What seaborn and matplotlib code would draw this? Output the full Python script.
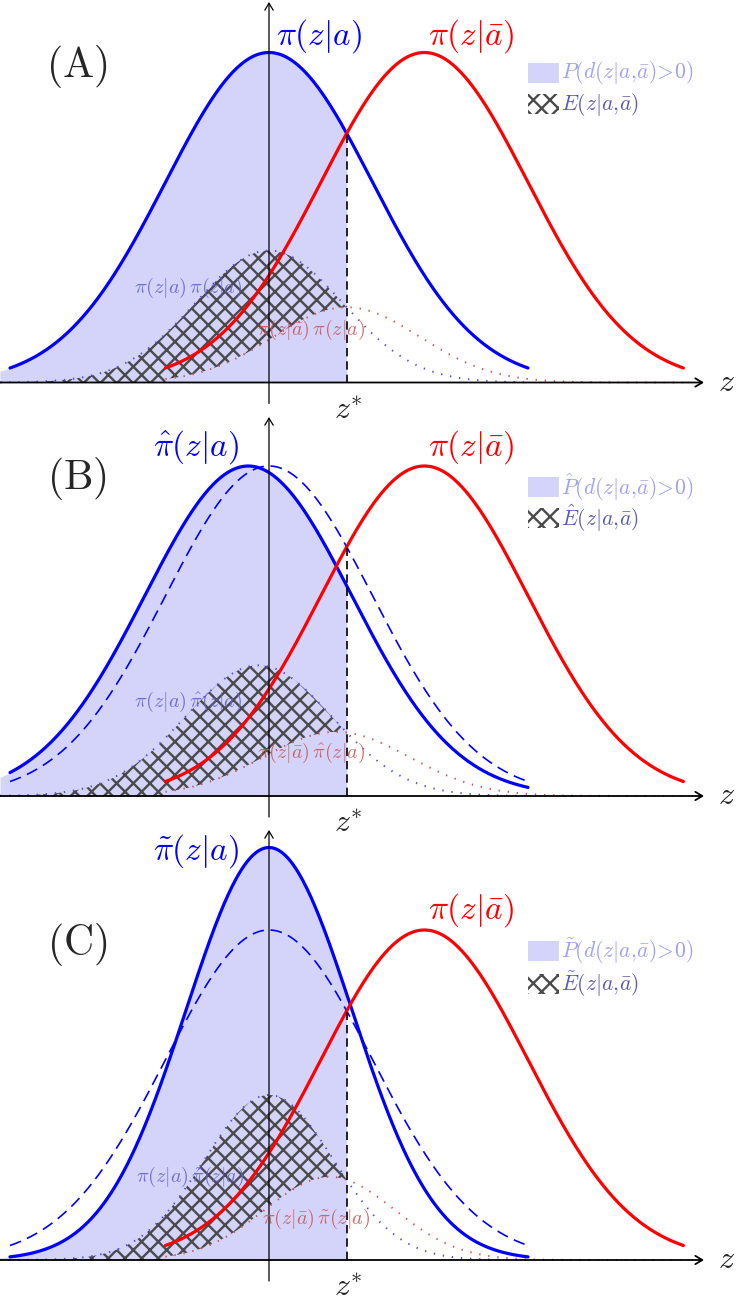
import numpy as np
import pandas as pd
import matplotlib
matplotlib.use("Agg")
import matplotlib.pyplot as plt
from matplotlib.patches import Rectangle, FancyArrowPatch
import seaborn as sns

# ---------------- data ----------------
panel_names = ["(A)", "(B)", "(C)"]
# modified blue density per panel: mean, sigma, peak height (relative to original)
blue_means = [0.0, -0.2, 0.0]
blue_sigmas = [1.0, 1.0, 0.8]
blue_peaks = [1.0, 1.0, 1.25]
# original densities
mu_a = 0.0
mu_abar = 1.5
sigma0 = 1.0
z_star = 0.75
product_scale = 0.4
blue_domain = [-2.5, 2.5]
red_domain = [-1.0, 4.0]
blue_labels = [r"$\pi(z|a)$", r"$\hat{\pi}(z|a)$", r"$\tilde{\pi}(z|a)$"]
red_label = r"$\pi(z|\bar{a})$"
legend_p = [r"$P(d(z|a,\!\bar{a})\!>\!0)$", r"$\hat{P}(d(z|a,\!\bar{a})\!>\!0)$",
            r"$\tilde{P}(d(z|a,\!\bar{a})\!>\!0)$"]
legend_e = [r"$E(z|a,\!\bar{a})$", r"$\hat{E}(z|a,\!\bar{a})$", r"$\tilde{E}(z|a,\!\bar{a})$"]
prod_up = [r"$\pi(z|a)\,\pi(z|a)$", r"$\pi(z|a)\,\hat{\pi}(z|a)$", r"$\pi(z|a)\,\tilde{\pi}(z|a)$"]
prod_lo = [r"$\pi(z|\bar{a})\,\pi(z|a)$", r"$\pi(z|\bar{a})\,\hat{\pi}(z|a)$",
           r"$\pi(z|\bar{a})\,\tilde{\pi}(z|a)$"]

# ---------------- layout (pixels) ----------------
W, H = 747, 1311
X0, XS, YS = 269.0, 103.6, 330.0
panel_rows = [(0, 415, 382.5), (415, 828, 796.0), (828, 1311, 1260.0)]
blue_label_px = [(319, 36), (196, 447), (196, 851)]
red_label_px = [(471, 36), (471, 447), (471, 910)]
tag_px = [(77, 66), (77, 479), (77, 944)]
leg_px = [(63, 94), (477, 508), (941, 974)]
prod_up_px = [(188, 288), (188, 702), (190, 1177)]
prod_lo_px = [(311, 330), (311, 753), (316, 1219)]

sns.set_theme(style="white")
plt.rcParams["mathtext.fontset"] = "cm"
plt.rcParams["font.family"] = ["DejaVu Serif", "DejaVu Sans"]
plt.rcParams["hatch.linewidth"] = 1.7

BLUE = "#0000ff"
RED = "#ff0000"
FILL = "#d4d4fb"
HATCH = "#4a4a4a"


def gauss(z, mu, s, h=1.0):
    return h * np.exp(-0.5 * ((z - mu) / s) ** 2)


fig = plt.figure(figsize=(W / 100, H / 100), dpi=100)
xlim = (-X0 / XS, (W - X0) / XS)

for k in range(3):
    top, bot, base = panel_rows[k]
    ax = fig.add_axes([0, 1 - bot / H, 1, (bot - top) / H])
    ax.set_xlim(*xlim)
    ax.set_ylim(-(bot - base) / YS, (base - top) / YS)
    ax.axis("off")

    def d(px, py):
        return (px - X0) / XS, (base - py) / YS

    mb, sb, hb = blue_means[k], blue_sigmas[k], blue_peaks[k]

    zb = np.linspace(blue_domain[0], blue_domain[1], 400)
    zr = np.linspace(red_domain[0], red_domain[1], 400)
    zfull = np.linspace(xlim[0], z_star, 500)

    # blue probability region
    ax.fill_between(zfull, 0, gauss(zfull, mb, sb, hb), color=FILL, lw=0, zorder=1)

    # hatched region between products
    up = product_scale * gauss(zfull, mu_a, sigma0) * gauss(zfull, mb, sb, hb)
    lo = np.where(zfull >= red_domain[0],
                  product_scale * gauss(zfull, mu_abar, sigma0) * gauss(zfull, mb, sb, hb), 0.0)
    ax.fill_between(zfull, lo, up, facecolor="none", edgecolor=HATCH, hatch="xx", lw=0, zorder=2)

    # dotted product curves
    zu = np.linspace(xlim[0], blue_domain[1], 400)
    up_df = pd.DataFrame({"z": zu, "v": product_scale * gauss(zu, mu_a, sigma0) * gauss(zu, mb, sb, hb)})
    lo_df = pd.DataFrame({"z": zr, "v": product_scale * gauss(zr, mu_abar, sigma0) * gauss(zr, mb, sb, hb)})
    sns.lineplot(data=up_df, x="z", y="v", ax=ax, color="#4a4af0", lw=1.4,
                 linestyle=(0, (0.7, 4.0)), zorder=3, legend=False)
    sns.lineplot(data=lo_df, x="z", y="v", ax=ax, color="#d05050", lw=1.4,
                 linestyle=(0, (0.7, 4.0)), zorder=3, legend=False)

    # original blue dashed in B and C
    if k > 0:
        orig_df = pd.DataFrame({"z": zb, "v": gauss(zb, mu_a, sigma0)})
        sns.lineplot(data=orig_df, x="z", y="v", ax=ax, color=BLUE, lw=1.2,
                     linestyle=(0, (7, 4)), zorder=4, legend=False)

    blue_df = pd.DataFrame({"z": zb, "v": gauss(zb, mb, sb, hb)})
    red_df = pd.DataFrame({"z": zr, "v": gauss(zr, mu_abar, sigma0)})
    sns.lineplot(data=blue_df, x="z", y="v", ax=ax, color=BLUE, lw=2.3, zorder=5, legend=False)
    sns.lineplot(data=red_df, x="z", y="v", ax=ax, color=RED, lw=2.3, zorder=5, legend=False)

    # z* dashed line
    ax.plot([z_star, z_star], [0, gauss(z_star, mu_a, sigma0)], color="black", lw=1.2,
            linestyle=(0, (5, 3)), zorder=6)

    # axes with arrows
    ax.add_patch(FancyArrowPatch(d(0, base), d(704, base), arrowstyle="->,head_length=5,head_width=3",
                                 color="black", lw=1.3, zorder=7, mutation_scale=1, shrinkA=0, shrinkB=0))
    ax.add_patch(FancyArrowPatch(d(X0, base + 21), d(X0, top + 2), arrowstyle="->,head_length=5,head_width=3",
                                 color="black", lw=0.9, zorder=7, mutation_scale=1, shrinkA=0, shrinkB=0))

    # texts
    ax.text(*d(726, base), r"$z$", fontsize=23, ha="center", va="center", zorder=8)
    ax.text(*d(348, base + 28), r"$z^{*}$", fontsize=23, ha="center", va="center", zorder=8)
    ax.text(*d(*tag_px[k]), r"$\mathrm{" + panel_names[k] + "}$", fontsize=30,
            ha="center", va="center", zorder=8)
    ax.text(*d(*blue_label_px[k]), blue_labels[k], fontsize=24, color=BLUE,
            ha="center", va="center", zorder=8)
    ax.text(*d(*red_label_px[k]), red_label, fontsize=24, color=RED,
            ha="center", va="center", zorder=8)
    ax.text(*d(*prod_up_px[k]), prod_up[k], fontsize=14.5, color="#6464d2", alpha=0.9,
            ha="center", va="center", zorder=8)
    ax.text(*d(*prod_lo_px[k]), prod_lo[k], fontsize=14.5, color="#c85a5a", alpha=0.9,
            ha="center", va="center", zorder=8)

    # legend
    y1, y2 = leg_px[k]
    x_a, y_a = d(528, y1 + 20)
    ax.add_patch(Rectangle((x_a, y_a), 31 / XS, 20 / YS, facecolor=FILL, lw=0, zorder=8))
    x_b, y_b = d(528, y2 + 20)
    ax.add_patch(Rectangle((x_b, y_b), 31 / XS, 20 / YS, facecolor="none", edgecolor=HATCH,
                           hatch="xx", lw=0, zorder=8))
    ax.text(*d(561, y1 + 10), legend_p[k], fontsize=15.5, color="#a0a0f2",
            ha="left", va="center", zorder=8)
    ax.text(*d(561, y2 + 10), legend_e[k], fontsize=15.5, color="#5a5ab4",
            ha="left", va="center", zorder=8)

fig.savefig("out.png", dpi=100)
